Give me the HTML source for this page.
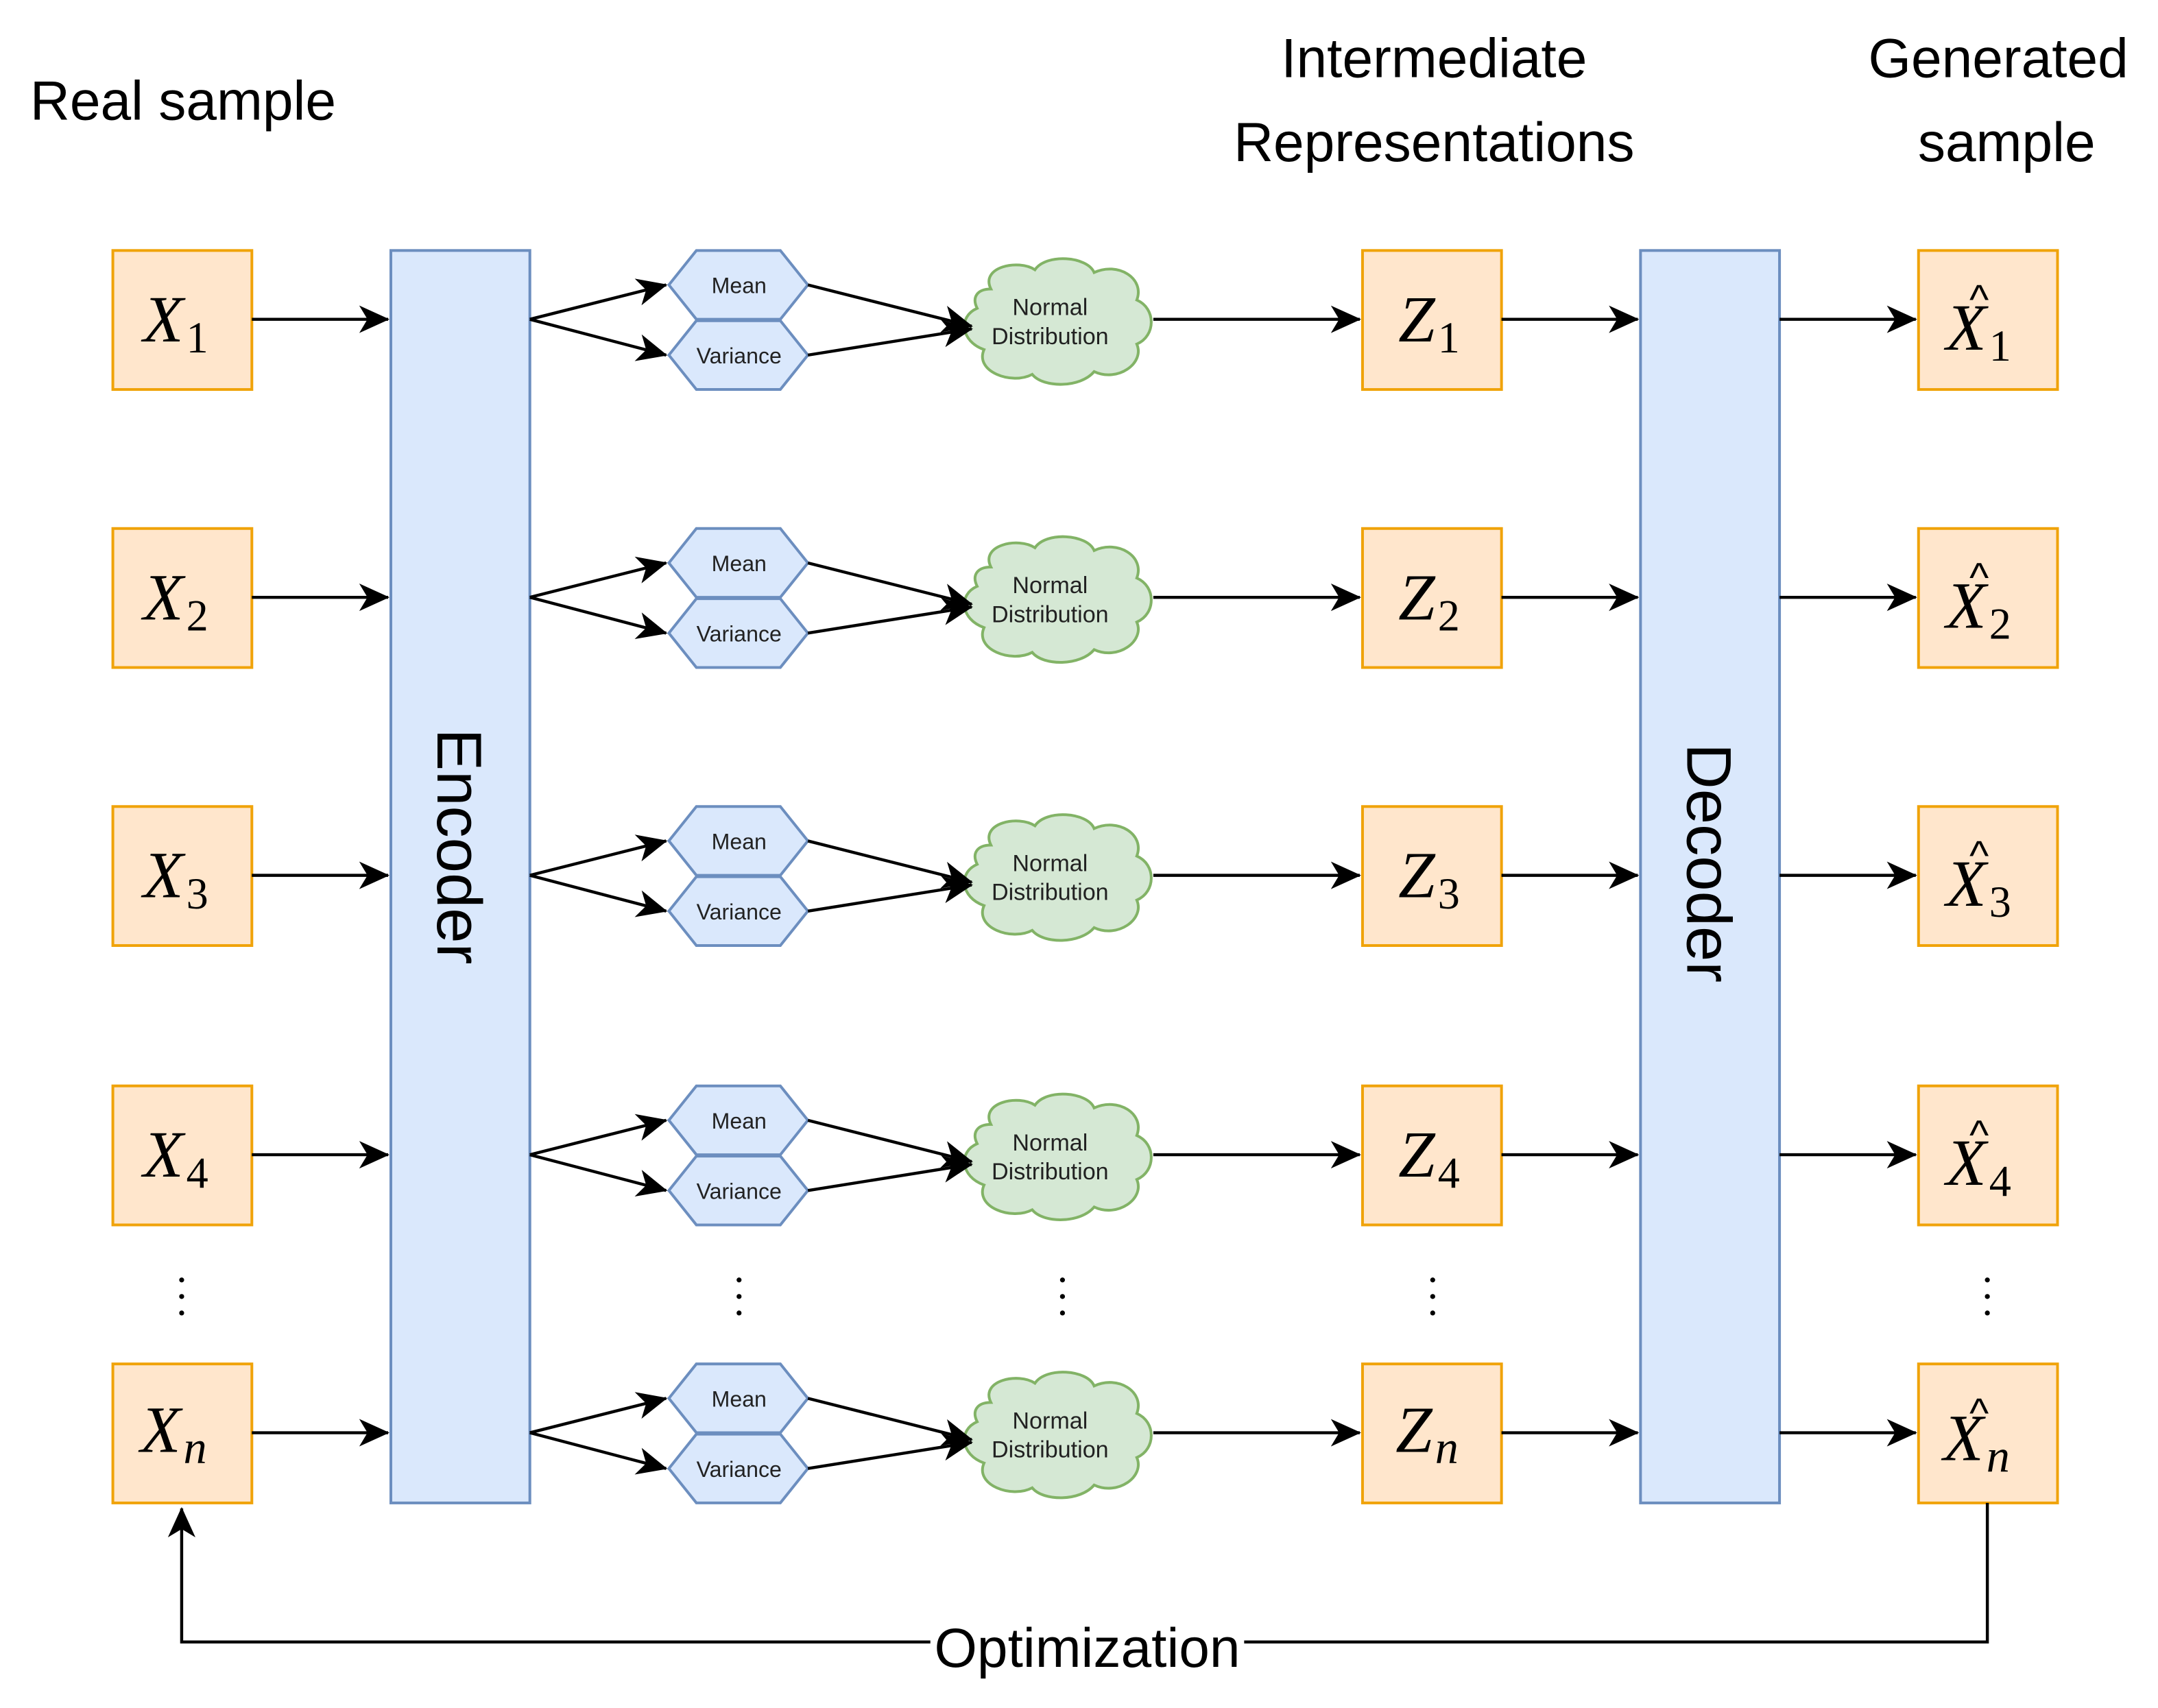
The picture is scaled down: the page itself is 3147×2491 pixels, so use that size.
<!DOCTYPE html>
<html><head><meta charset="utf-8"><style>
html,body{margin:0;padding:0;background:#fff;}
svg{display:block;}
text{font-family:"Liberation Sans",sans-serif;}
.m{font-family:"Liberation Serif",serif;font-style:italic;}
</style></head><body>
<svg width="3147" height="2491" viewBox="0 0 1568 1241" preserveAspectRatio="none" xmlns="http://www.w3.org/2000/svg">
<defs>
<marker id="b" markerWidth="22" markerHeight="22" refX="21" refY="11" orient="auto" markerUnits="userSpaceOnUse">
<path d="M0,1 L22,11 L0,21 L6,11 Z" fill="#000"/>
</marker>
<g id="row">
<rect x="82" y="0" width="101" height="101" fill="#ffe6cc" stroke="#f0a30a" stroke-width="2"/>
<line x1="183" y1="50" x2="282" y2="50" stroke="#000" stroke-width="2.2" marker-end="url(#b)"/>
<line x1="385" y1="50" x2="484" y2="25" stroke="#000" stroke-width="2.2" marker-end="url(#b)"/>
<line x1="385" y1="50" x2="484" y2="76" stroke="#000" stroke-width="2.2" marker-end="url(#b)"/>
<polygon points="486,25 506,0 567,0 587,25 567,50 506,50" fill="#dae8fc" stroke="#6c8ebf" stroke-width="2"/>
<polygon points="486,76 506,51 567,51 587,76 567,101 506,101" fill="#dae8fc" stroke="#6c8ebf" stroke-width="2"/>
<text x="537" y="31" font-size="16" text-anchor="middle" fill="#222">Mean</text>
<text x="537" y="82" font-size="16" text-anchor="middle" fill="#222">Variance</text>
<path d="M720,28 C712,12 740,6 752,14 C760,2 790,4 795,16 C812,8 832,20 826,36 C840,42 840,62 826,68 C832,82 812,96 795,88 C785,100 758,100 750,90 C735,98 708,88 715,72 C698,66 696,48 710,42 C706,34 710,28 720,28 Z" fill="#d5e8d4" stroke="#82b366" stroke-width="2"/>
<line x1="587" y1="25" x2="706" y2="55" stroke="#000" stroke-width="2.2" marker-end="url(#b)"/>
<line x1="587" y1="76" x2="706" y2="57" stroke="#000" stroke-width="2.2" marker-end="url(#b)"/>
<text x="763" y="47" font-size="17" text-anchor="middle" fill="#222">Normal</text>
<text x="763" y="68" font-size="17" text-anchor="middle" fill="#222">Distribution</text>
<line x1="838" y1="50" x2="988" y2="50" stroke="#000" stroke-width="2.2" marker-end="url(#b)"/>
<rect x="990" y="0" width="101" height="101" fill="#ffe6cc" stroke="#f0a30a" stroke-width="2"/>
<line x1="1091" y1="50" x2="1190" y2="50" stroke="#000" stroke-width="2.2" marker-end="url(#b)"/>
<line x1="1293" y1="50" x2="1392" y2="50" stroke="#000" stroke-width="2.2" marker-end="url(#b)"/>
<rect x="1394" y="0" width="101" height="101" fill="#ffe6cc" stroke="#f0a30a" stroke-width="2"/>
</g>
</defs>
<rect x="284" y="182" width="101" height="910" fill="#dae8fc" stroke="#6c8ebf" stroke-width="2"/>
<rect x="1192" y="182" width="101" height="910" fill="#dae8fc" stroke="#6c8ebf" stroke-width="2"/>
<use href="#row" y="182"/>
<use href="#row" y="384"/>
<use href="#row" y="586"/>
<use href="#row" y="789"/>
<use href="#row" y="991"/>
<text transform="translate(318,615) rotate(90)" font-size="46" text-anchor="middle">Encoder</text>
<text transform="translate(1226,627) rotate(90)" font-size="46" text-anchor="middle">Decoder</text>
<g class="m" font-size="48" fill="#000">
<text class="m" x="104" y="248">X<tspan font-size="32" font-style="normal" dx="2" dy="8">1</tspan></text>
<text class="m" x="104" y="450">X<tspan font-size="32" font-style="normal" dx="2" dy="8">2</tspan></text>
<text class="m" x="104" y="652">X<tspan font-size="32" font-style="normal" dx="2" dy="8">3</tspan></text>
<text class="m" x="104" y="855">X<tspan font-size="32" font-style="normal" dx="2" dy="8">4</tspan></text>
<text class="m" x="102" y="1055">X<tspan font-size="34" dx="2" dy="8">n</tspan></text>
<text class="m" x="1016" y="248">Z<tspan font-size="32" font-style="normal" dx="2" dy="8">1</tspan></text>
<text class="m" x="1016" y="450">Z<tspan font-size="32" font-style="normal" dx="2" dy="8">2</tspan></text>
<text class="m" x="1016" y="652">Z<tspan font-size="32" font-style="normal" dx="2" dy="8">3</tspan></text>
<text class="m" x="1016" y="855">Z<tspan font-size="32" font-style="normal" dx="2" dy="8">4</tspan></text>
<text class="m" x="1014" y="1055">Z<tspan font-size="34" dx="2" dy="8">n</tspan></text>
<text class="m" x="1414" y="254">X<tspan font-size="32" font-style="normal" dx="2" dy="8">1</tspan></text>
<text class="m" x="1414" y="456">X<tspan font-size="32" font-style="normal" dx="2" dy="8">2</tspan></text>
<text class="m" x="1414" y="658">X<tspan font-size="32" font-style="normal" dx="2" dy="8">3</tspan></text>
<text class="m" x="1414" y="861">X<tspan font-size="32" font-style="normal" dx="2" dy="8">4</tspan></text>
<text class="m" x="1412" y="1061">X<tspan font-size="34" dx="2" dy="8">n</tspan></text>
</g>
<g font-size="30" font-family="Liberation Serif,serif" text-anchor="middle">
<text x="1438" y="228">^</text><text x="1438" y="430">^</text><text x="1438" y="632">^</text><text x="1438" y="835">^</text><text x="1438" y="1037">^</text>
</g>
<g fill="#000">
<circle cx="132" cy="930" r="1.8"/><circle cx="132" cy="942" r="1.8"/><circle cx="132" cy="954" r="1.8"/>
<circle cx="537" cy="930" r="1.8"/><circle cx="537" cy="942" r="1.8"/><circle cx="537" cy="954" r="1.8"/>
<circle cx="772" cy="930" r="1.8"/><circle cx="772" cy="942" r="1.8"/><circle cx="772" cy="954" r="1.8"/>
<circle cx="1041" cy="930" r="1.8"/><circle cx="1041" cy="942" r="1.8"/><circle cx="1041" cy="954" r="1.8"/>
<circle cx="1444" cy="930" r="1.8"/><circle cx="1444" cy="942" r="1.8"/><circle cx="1444" cy="954" r="1.8"/>
</g>
<polyline points="1444,1092 1444,1193 132,1193 132,1096" fill="none" stroke="#000" stroke-width="2.2" marker-end="url(#b)"/>
<rect x="676" y="1174" width="228" height="40" fill="#fff"/>
<text x="790" y="1211" font-size="40" text-anchor="middle">Optimization</text>
<text x="133" y="87" font-size="40" text-anchor="middle">Real sample</text>
<text x="1042" y="56" font-size="40" text-anchor="middle">Intermediate</text>
<text x="1042" y="117" font-size="40" text-anchor="middle">Representations</text>
<text x="1452" y="56" font-size="40" text-anchor="middle">Generated</text>
<text x="1458" y="117" font-size="40" text-anchor="middle">sample</text>
</svg>
</body></html>
